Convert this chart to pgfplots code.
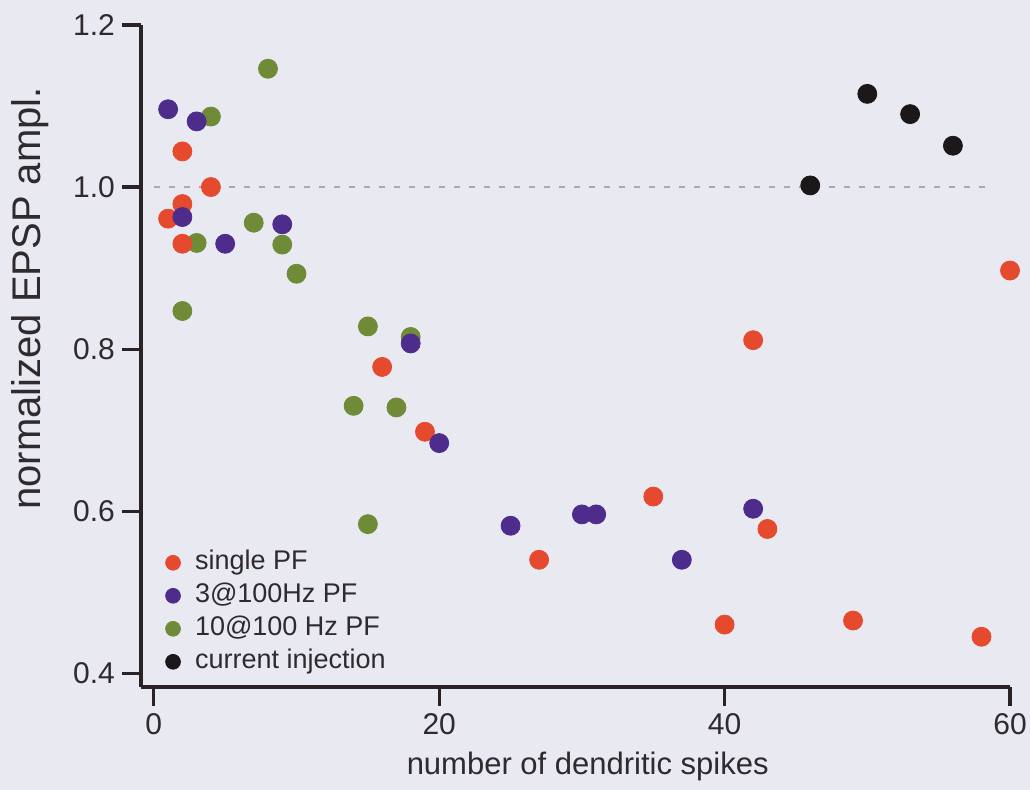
\documentclass[border=0pt]{standalone}
\usepackage{fontspec}
\setmainfont{Liberation Sans}
\usepackage{pgfplots}
\pgfplotsset{compat=1.18}
\definecolor{bg}{HTML}{E9E9F1}
\definecolor{cred}{HTML}{E64A2E}
\definecolor{cpur}{HTML}{4E2C8C}
\definecolor{cgrn}{HTML}{6F8B37}
\definecolor{cblk}{HTML}{1C1719}
\definecolor{axc}{HTML}{2B2225}
\definecolor{txt}{HTML}{2E2A2E}
\definecolor{dashc}{HTML}{A9A9B5}
\begin{document}
\begin{tikzpicture}
\fill[bg] (-70.5pt,-51.5pt) rectangle (444.5pt,343.5pt);
\begin{axis}[
  at={(0,0)}, anchor=south west,
  scale only axis, width=434.5pt, height=331pt,
  xmin=-0.9, xmax=60, ymin=0.383, ymax=1.2,
  clip=false,
  axis x line*=bottom, axis y line*=left,
  axis line style={axc, line width=1.6pt, -},
  xtick={0,20,40,60}, ytick={0.4,0.6,0.8,1.0,1.2},
  yticklabels={0.4,0.6,0.8,1.0,1.2},
  tick align=outside, major tick length=9.5pt,
  every tick/.style={axc, line width=1.6pt},
  tick label style={font=\fontsize{15}{18}\selectfont, text=txt},
  /pgf/number format/assume math mode=true,
  legend style={at={(axis description cs:0.018,0.008)}, anchor=south west,
    draw=none, fill=none, font=\fontsize{13.5}{16}\selectfont, text=txt,
    row sep=1pt, nodes={text height=10pt, text depth=3.5pt, inner sep=1pt}},
  legend cell align=left,
  legend image code/.code={\path[draw=none, fill=none] (0pt,0pt) (15pt,0pt); \draw[mark repeat=2, mark phase=2, #1] plot coordinates {(0pt,0pt) (5pt,0pt) (10pt,0pt)};},
]
\addplot[dashc, line width=1pt, dash pattern=on 3pt off 4.5pt, forget plot] coordinates {(0,1) (58.8,1)};
% 10@100 Hz PF
\addplot[only marks, mark=*, mark size=4.75pt, cgrn, forget plot] coordinates {
(8,1.146) (4,1.087) (3,0.931) (2,0.847) (7,0.956) (9,0.929) (10,0.893)
(15,0.828) (18,0.815) (14,0.730) (17,0.728) (15,0.584)};
% single PF
\addplot[only marks, mark=*, mark size=4.75pt, cred, forget plot] coordinates {
(1,0.961) (2,1.044) (2,0.979) (2,0.930) (4,1.000) (16,0.778) (19,0.698)
(27,0.540) (35,0.618) (40,0.460) (42,0.811) (43,0.578) (49,0.465) (58,0.445) (60,0.897)};
% 3@100Hz PF
\addplot[only marks, mark=*, mark size=4.75pt, cpur, forget plot] coordinates {
(1,1.096) (2,0.963) (3,1.081) (5,0.930) (9,0.954) (18,0.807) (20,0.684)
(25,0.582) (30,0.596) (31,0.596) (37,0.540) (42,0.603)};
% current injection
\addplot[only marks, mark=*, mark size=4.75pt, cblk, forget plot] coordinates {
(46,1.002) (50,1.115) (53,1.090) (56,1.051)};
\addlegendimage{only marks, mark=*, mark size=3.7pt, cred}
\addlegendentry{single PF}
\addlegendimage{only marks, mark=*, mark size=3.7pt, cpur}
\addlegendentry{3@100Hz PF}
\addlegendimage{only marks, mark=*, mark size=3.7pt, cgrn}
\addlegendentry{10@100 Hz PF}
\addlegendimage{only marks, mark=*, mark size=3.7pt, cblk}
\addlegendentry{current injection}
\node[font=\fontsize{15.5}{18}\selectfont, text=txt, anchor=center]
  at (axis description cs:0.514,-0.12) {number of dendritic spikes};
\node[font=\fontsize{20}{24}\selectfont, text=txt, anchor=center, rotate=90]
  at (axis description cs:-0.128,0.587) {normalized EPSP ampl.};
\end{axis}
\pgfresetboundingbox
\path[use as bounding box] (-70.5pt,-51.5pt) rectangle (444.5pt,343.5pt);
\end{tikzpicture}
\end{document}
